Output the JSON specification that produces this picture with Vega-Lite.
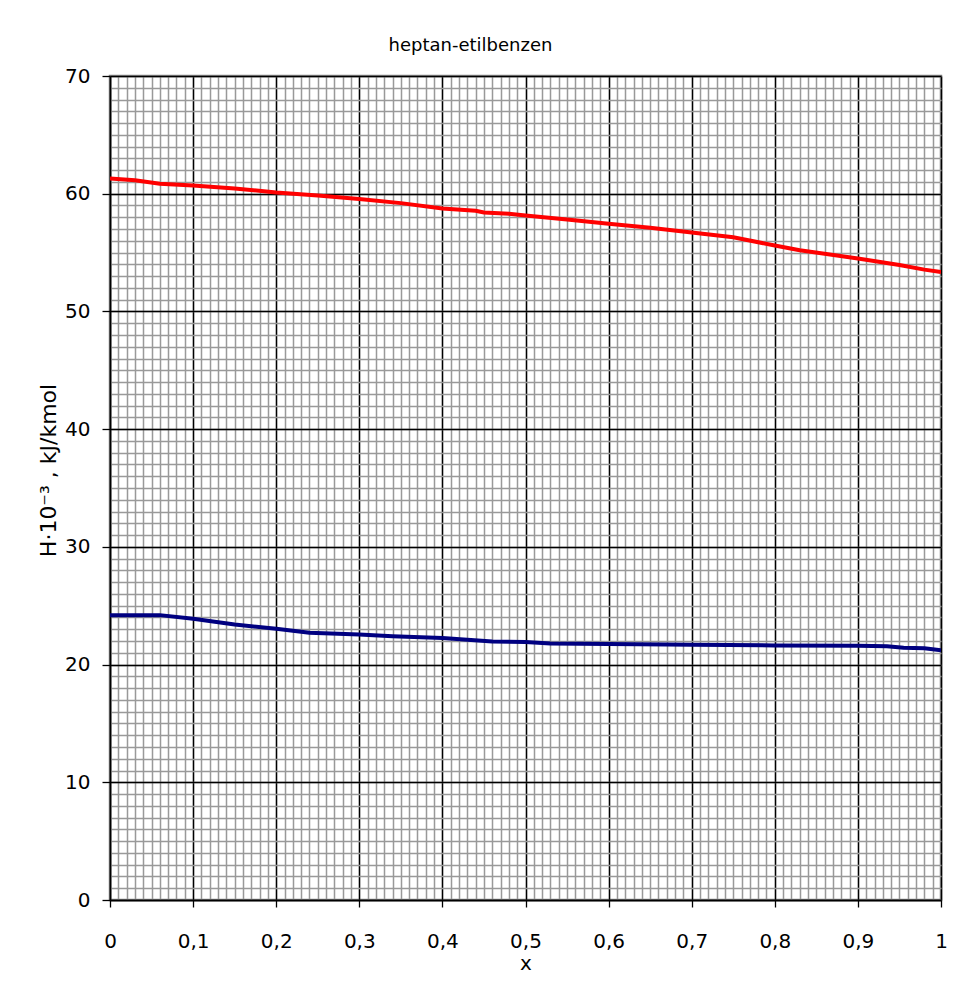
{
  "$schema": "https://vega.github.io/schema/vega-lite/v6.json",
  "width": 831,
  "height": 824,
  "autosize": {"type": "none"},
  "padding": {"left": 110, "top": 76, "right": 13, "bottom": 83},
  "background": "white",
  "config": {
    "font": "DejaVu Sans",
    "view": {"stroke": "#888888", "strokeWidth": 2.5}
  },
  "title": {"text": "heptan-etilbenzen", "fontSize": 18, "fontWeight": "normal", "color": "black", "offset": 11, "dx": -55, "font": "DejaVu Sans"},
  "datasets": {
    "upper": [
      {"x": 0, "H": 61.3}, {"x": 0.03, "H": 61.15}, {"x": 0.06, "H": 60.85}, {"x": 0.1, "H": 60.7},
      {"x": 0.15, "H": 60.45}, {"x": 0.2, "H": 60.1}, {"x": 0.25, "H": 59.85}, {"x": 0.3, "H": 59.55},
      {"x": 0.35, "H": 59.2}, {"x": 0.4, "H": 58.75}, {"x": 0.44, "H": 58.55}, {"x": 0.45, "H": 58.4},
      {"x": 0.48, "H": 58.3}, {"x": 0.5, "H": 58.15}, {"x": 0.55, "H": 57.8}, {"x": 0.6, "H": 57.45},
      {"x": 0.65, "H": 57.1}, {"x": 0.7, "H": 56.7}, {"x": 0.75, "H": 56.3}, {"x": 0.8, "H": 55.6},
      {"x": 0.83, "H": 55.2}, {"x": 0.9, "H": 54.5}, {"x": 0.95, "H": 53.95}, {"x": 0.98, "H": 53.55},
      {"x": 1, "H": 53.35}
    ],
    "lower": [
      {"x": 0, "H": 24.2}, {"x": 0.06, "H": 24.2}, {"x": 0.1, "H": 23.9}, {"x": 0.15, "H": 23.4},
      {"x": 0.2, "H": 23.05}, {"x": 0.24, "H": 22.7}, {"x": 0.3, "H": 22.55}, {"x": 0.34, "H": 22.4},
      {"x": 0.4, "H": 22.25}, {"x": 0.46, "H": 21.95}, {"x": 0.5, "H": 21.92}, {"x": 0.53, "H": 21.78},
      {"x": 0.6, "H": 21.75}, {"x": 0.67, "H": 21.7}, {"x": 0.7, "H": 21.68}, {"x": 0.8, "H": 21.63},
      {"x": 0.9, "H": 21.6}, {"x": 0.935, "H": 21.55}, {"x": 0.955, "H": 21.42}, {"x": 0.98, "H": 21.38},
      {"x": 1, "H": 21.22}
    ]
  },
  "layer": [
    {
      "data": {"name": "upper"},
      "mark": {"type": "line", "color": "#ff0000", "strokeWidth": 4, "clip": true},
      "encoding": {
        "x": {"field": "x", "type": "quantitative", "scale": {"domain": [0, 1], "nice": false},
          "axis": {"orient": "bottom", "values": [0,0.01,0.02,0.03,0.04,0.05,0.06,0.07,0.08,0.09,0.1,0.11,0.12,0.13,0.14,0.15,0.16,0.17,0.18,0.19,0.2,0.21,0.22,0.23,0.24,0.25,0.26,0.27,0.28,0.29,0.3,0.31,0.32,0.33,0.34,0.35,0.36,0.37,0.38,0.39,0.4,0.41,0.42,0.43,0.44,0.45,0.46,0.47,0.48,0.49,0.5,0.51,0.52,0.53,0.54,0.55,0.56,0.57,0.58,0.59,0.6,0.61,0.62,0.63,0.64,0.65,0.66,0.67,0.68,0.69,0.7,0.71,0.72,0.73,0.74,0.75,0.76,0.77,0.78,0.79,0.8,0.81,0.82,0.83,0.84,0.85,0.86,0.87,0.88,0.89,0.9,0.91,0.92,0.93,0.94,0.95,0.96,0.97,0.98,0.99,1],
            "grid": true, "gridColor": "#999999", "gridWidth": 1.5, "gridOpacity": 1, "labels": false, "ticks": false, "domain": false, "title": null, "minExtent": 0, "maxExtent": 0}},
        "y": {"field": "H", "type": "quantitative", "scale": {"domain": [0, 70], "nice": false},
          "axis": {"orient": "left", "values": [0,1,2,3,4,5,6,7,8,9,10,11,12,13,14,15,16,17,18,19,20,21,22,23,24,25,26,27,28,29,30,31,32,33,34,35,36,37,38,39,40,41,42,43,44,45,46,47,48,49,50,51,52,53,54,55,56,57,58,59,60,61,62,63,64,65,66,67,68,69,70],
            "grid": true, "gridColor": "#999999", "gridWidth": 1.5, "gridOpacity": 1, "labels": false, "ticks": false, "domain": false, "title": null, "minExtent": 0, "maxExtent": 0}}
      }
    },
    {
      "data": {"name": "lower"},
      "mark": {"type": "line", "color": "#000080", "strokeWidth": 4, "clip": true},
      "encoding": {
        "x": {"field": "x", "type": "quantitative", "scale": {"domain": [0, 1], "nice": false},
          "axis": {"orient": "bottom", "values": [0,0.1,0.2,0.3,0.4,0.5,0.6,0.7,0.8,0.9,1],
            "labelExpr": "replace(format(datum.value, '~g'), '.', ',')",
            "grid": true, "gridColor": "#000000", "gridWidth": 1.4, "gridOpacity": 1,
            "domainColor": "#000000", "domainWidth": 1.5, "tickColor": "#000000", "tickWidth": 1.3, "tickSize": 7,
            "labelFontSize": 20, "labelColor": "#000000", "labelPadding": 24, "labelFlush": false,
            "title": "x", "titleFontSize": 20, "titleFontWeight": "normal", "titleColor": "#000000", "titlePadding": 2}},
        "y": {"field": "H", "type": "quantitative", "scale": {"domain": [0, 70], "nice": false},
          "axis": {"orient": "left", "values": [0,10,20,30,40,50,60,70],
            "grid": true, "gridColor": "#000000", "gridWidth": 1.4, "gridOpacity": 1,
            "domainColor": "#000000", "domainWidth": 1.5, "tickColor": "#000000", "tickWidth": 1.3, "tickSize": 8,
            "labelFontSize": 20, "labelColor": "#000000", "labelPadding": 12, "labelFlush": false,
            "title": "H·10⁻³ , kJ/kmol", "titleFontSize": 22, "titleFontWeight": "normal", "titleColor": "#000000", "titlePadding": 4, "titleY": 394}}
      }
    }
  ],
  "resolve": {"axis": {"x": "independent", "y": "independent"}}
}
